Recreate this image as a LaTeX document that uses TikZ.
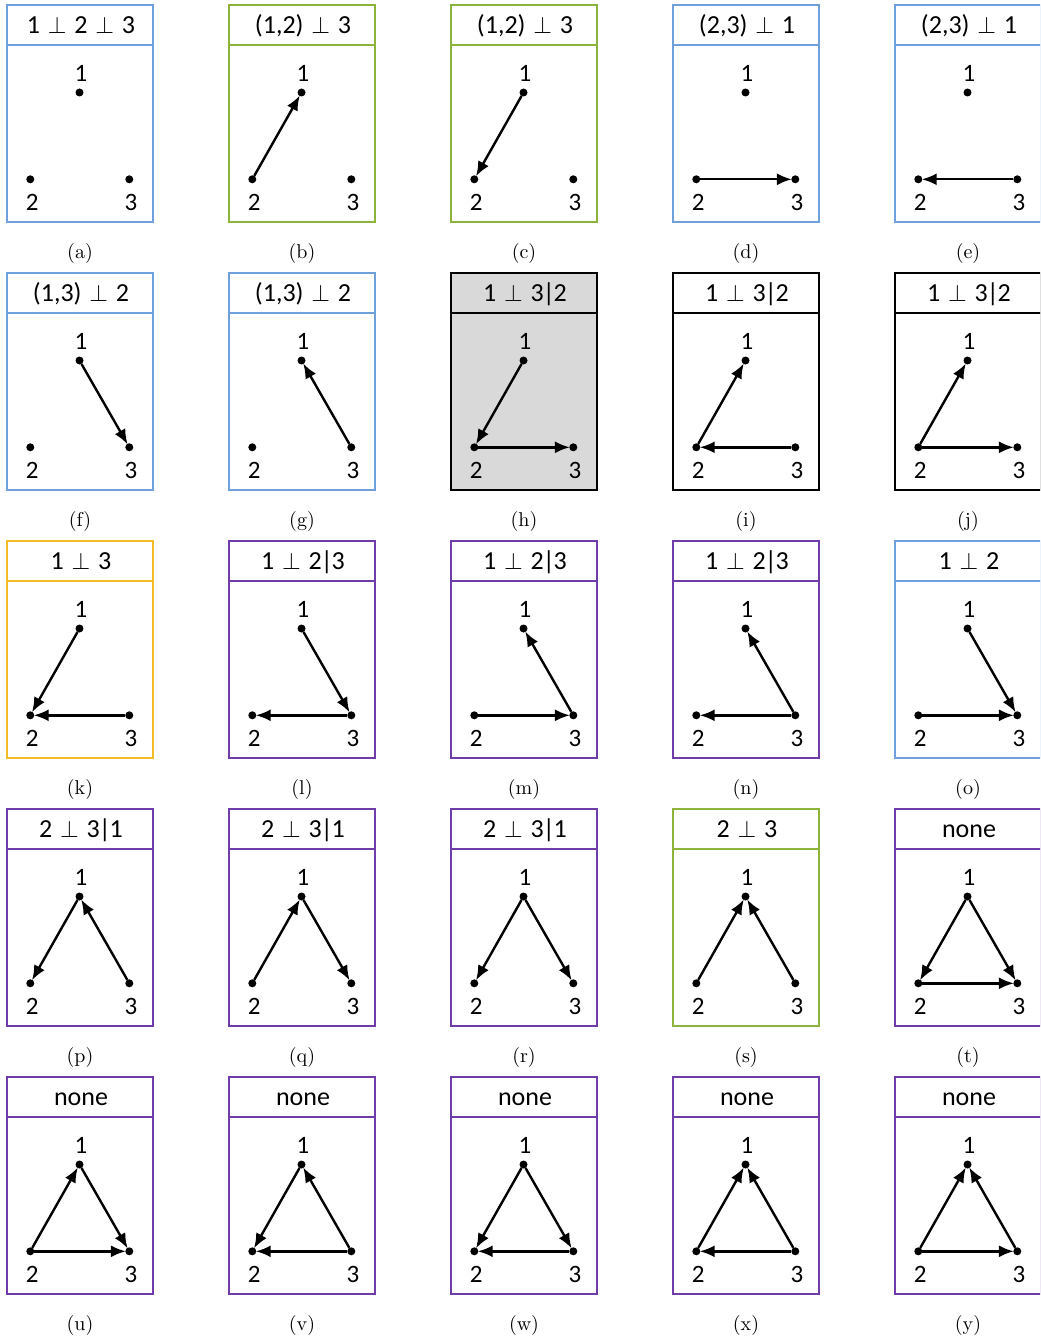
\documentclass[tikz,border=0pt]{standalone}
\usepackage{fontspec}
\newfontfamily\carl{Carlito}
\usetikzlibrary{arrows.meta}
\definecolor{pblue}{RGB}{110,160,220}
\definecolor{pgreen}{RGB}{140,180,60}
\definecolor{pyellow}{RGB}{242,188,40}
\definecolor{ppurple}{RGB}{112,60,170}
\definecolor{pgray}{RGB}{217,217,217}
\tikzset{
  frame/.style={line width=0.75pt},
  hdr/.style={font=\carl\fontsize{13}{15}\selectfont, inner sep=0pt, anchor=base},
  lbl/.style={font=\carl\fontsize{12.5}{14}\selectfont, inner sep=0pt, anchor=base},
  captext/.style={font=\fontsize{10}{12}\selectfont, inner sep=0pt},
  dot/.style={circle, fill=black, minimum size=4pt, inner sep=0pt, outer sep=0pt},
  arr/.style={line width=1.2pt, -{Latex[length=7.5pt,width=6pt]}, shorten >=-0.3pt},
}
\newcommand{\mypanel}[6]{%
  \begin{scope}[shift={(#2,#3)}]
    \draw[frame, draw=#4, fill=#5] (0,0) rectangle (146,217);
    \draw[frame, draw=#4] (0,40) -- (146,40);
    \node[hdr] (#1h) at (74,28.5) {#6};
    \node[dot] (#11) at (72.5,87.5) {};
    \node[dot] (#12) at (23.3,174.3) {};
    \node[dot] (#13) at (122.3,174.3) {};
    \node[lbl] (#1l1) at (74,76.7) {1};
    \node[lbl] (#1l2) at (25.3,205.7) {2};
    \node[lbl] (#1l3) at (124,205.7) {3};
    \node[captext] (#1c) at (73,248) {(#1)};
  \end{scope}}
\newcommand{\pp}{\hspace{0.3em}\ensuremath{\perp}\hspace{0.3em}}
\newcommand{\given}{\kern-0.5pt|\kern-0.5pt}
\begin{document}
\begin{tikzpicture}[x=0.5pt,y=-0.5pt]
\useasboundingbox (0,0) rectangle (1040,1337);
\clip (0,0) rectangle (1040,1337);
% row 1
\mypanel{a}{7}{5}{pblue}{white}{1\pp2\pp3}
\mypanel{b}{229}{5}{pgreen}{white}{(1,2)\pp3}
\mypanel{c}{451}{5}{pgreen}{white}{(1,2)\pp3}
\mypanel{d}{673}{5}{pblue}{white}{(2,3)\pp1}
\mypanel{e}{895}{5}{pblue}{white}{(2,3)\pp1}
\draw[arr] (b2) -- (b1);
\draw[arr] (c1) -- (c2);
\draw[arr] (d2) -- (d3);
\draw[arr] (e3) -- (e2);
% row 2
\mypanel{f}{7}{273}{pblue}{white}{(1,3)\pp2}
\mypanel{g}{229}{273}{pblue}{white}{(1,3)\pp2}
\mypanel{h}{451}{273}{black}{pgray}{1\pp3\given2}
\mypanel{i}{673}{273}{black}{white}{1\pp3\given2}
\mypanel{j}{895}{273}{black}{white}{1\pp3\given2}
\draw[arr] (f1) -- (f3);
\draw[arr] (g3) -- (g1);
\draw[arr] (h1) -- (h2);
\draw[arr] (h2) -- (h3);
\draw[arr] (i2) -- (i1);
\draw[arr] (i3) -- (i2);
\draw[arr] (j2) -- (j1);
\draw[arr] (j2) -- (j3);
% row 3
\mypanel{k}{7}{541}{pyellow}{white}{1\pp3}
\mypanel{l}{229}{541}{ppurple}{white}{1\pp2\given3}
\mypanel{m}{451}{541}{ppurple}{white}{1\pp2\given3}
\mypanel{n}{673}{541}{ppurple}{white}{1\pp2\given3}
\mypanel{o}{895}{541}{pblue}{white}{1\pp2}
\draw[arr] (k1) -- (k2);
\draw[arr] (k3) -- (k2);
\draw[arr] (l1) -- (l3);
\draw[arr] (l3) -- (l2);
\draw[arr] (m2) -- (m3);
\draw[arr] (m3) -- (m1);
\draw[arr] (n3) -- (n1);
\draw[arr] (n3) -- (n2);
\draw[arr] (o1) -- (o3);
\draw[arr] (o2) -- (o3);
% row 4
\mypanel{p}{7}{809}{ppurple}{white}{2\pp3\given1}
\mypanel{q}{229}{809}{ppurple}{white}{2\pp3\given1}
\mypanel{r}{451}{809}{ppurple}{white}{2\pp3\given1}
\mypanel{s}{673}{809}{pgreen}{white}{2\pp3}
\mypanel{t}{895}{809}{ppurple}{white}{none}
\draw[arr] (p1) -- (p2);
\draw[arr] (p3) -- (p1);
\draw[arr] (q2) -- (q1);
\draw[arr] (q1) -- (q3);
\draw[arr] (r1) -- (r2);
\draw[arr] (r1) -- (r3);
\draw[arr] (s2) -- (s1);
\draw[arr] (s3) -- (s1);
\draw[arr] (t1) -- (t2);
\draw[arr] (t1) -- (t3);
\draw[arr] (t2) -- (t3);
% row 5
\mypanel{u}{7}{1077}{ppurple}{white}{none}
\mypanel{v}{229}{1077}{ppurple}{white}{none}
\mypanel{w}{451}{1077}{ppurple}{white}{none}
\mypanel{x}{673}{1077}{ppurple}{white}{none}
\mypanel{y}{895}{1077}{ppurple}{white}{none}
\draw[arr] (u2) -- (u1);
\draw[arr] (u1) -- (u3);
\draw[arr] (u2) -- (u3);
\draw[arr] (v1) -- (v2);
\draw[arr] (v3) -- (v1);
\draw[arr] (v3) -- (v2);
\draw[arr] (w1) -- (w2);
\draw[arr] (w1) -- (w3);
\draw[arr] (w3) -- (w2);
\draw[arr] (x2) -- (x1);
\draw[arr] (x3) -- (x1);
\draw[arr] (x3) -- (x2);
\draw[arr] (y2) -- (y1);
\draw[arr] (y3) -- (y1);
\draw[arr] (y2) -- (y3);
\end{tikzpicture}
\end{document}
